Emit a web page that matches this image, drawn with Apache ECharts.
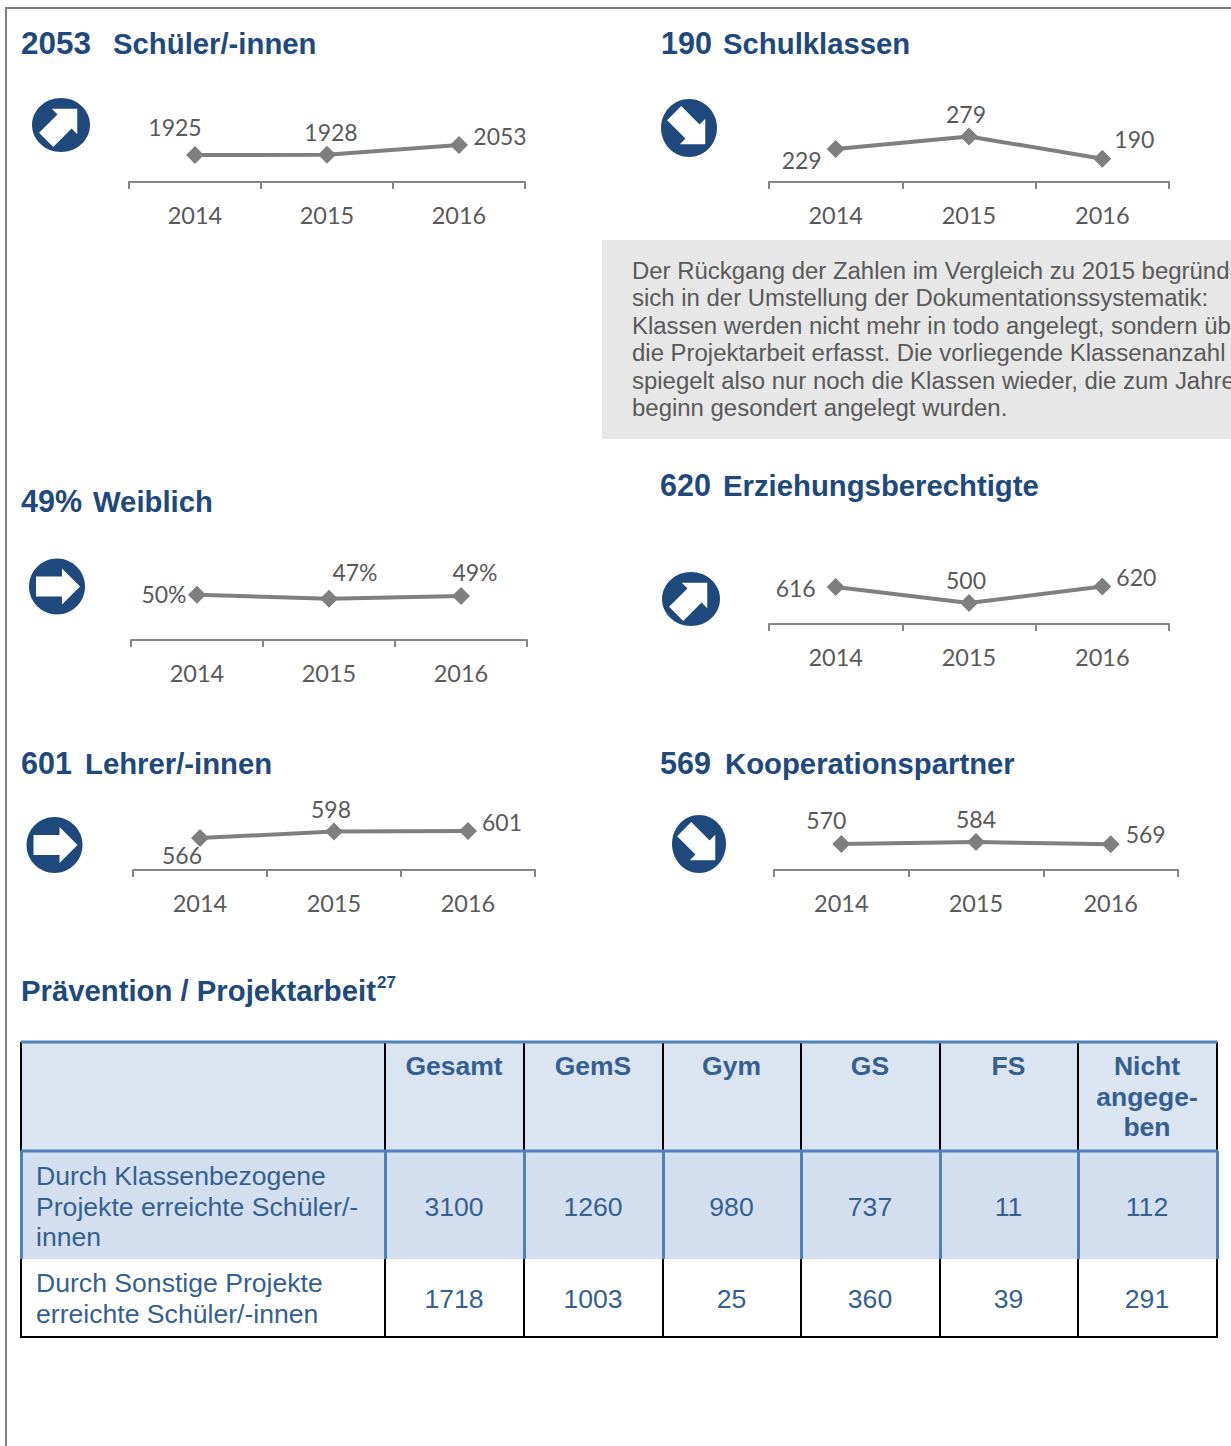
<!DOCTYPE html>
<html>
<head>
<meta charset="utf-8">
<title>Schülerzahlen 2016</title>
<script src="https://cdn.jsdelivr.net/npm/echarts@6/dist/echarts.min.js"></script>
<style>
html, body { margin: 0; padding: 0; background: #fff; overflow: hidden; }
#charts-con { width: 1231px; height: 1446px; }
</style>
</head>
<body>
<div id="charts-con"></div>
<script>
// data
var years = ['2014', '2015', '2016'];
var schueler = [1925, 1928, 2053];
var schulklassen = [229, 279, 190];
var weiblich = [50, 47, 49];
var eltern = [616, 500, 620];
var lehrer = [566, 598, 601];
var partner = [570, 584, 569];

var tableColumns = ['Gesamt', 'GemS', 'Gym', 'GS', 'FS', 'Nicht\nangege-\nben'];
var tableRowLabels = ['Durch Klassenbezogene\nProjekte erreichte Schüler/-\ninnen', 'Durch Sonstige Projekte\nerreichte Schüler/-innen'];
var klassenProjekte = [3100, 1260, 980, 737, 11, 112];
var sonstigeProjekte = [1718, 1003, 25, 360, 39, 291];

// the box runs off the page in the reference, so only what is visible is kept
var noteLines = [
    'Der Rückgang der Zahlen im Vergleich zu 2015 begründ',
    'sich in der Umstellung der Dokumentationssystematik:',
    'Klassen werden nicht mehr in todo angelegt, sondern üb',
    'die Projektarbeit erfasst. Die vorliegende Klassenanzahl',
    'spiegelt also nur noch die Klassen wieder, die zum Jahre',
    'beginn gesondert angelegt wurden.'
];

// colours and fonts
var NAVY = '#1F497D', BLUE = '#365F91', LINE_BLUE = '#4F81BD', GREY = '#7F7F7F', AXIS = '#868686', TEXT = '#595959';
var ARIAL = '"Liberation Sans", Arial, sans-serif', CHART_FONT = 'Lato, sans-serif';

// left/right = axis ends, axisY = axis height, unit = value per pixel
var panels = [
    {data: schueler, left: 129, right: 525, axisY: 182, min: 1580, unit: 12.8, labelOffsets: [[-20, -28], [4, -23], [41, -9]]},
    {data: schulklassen, left: 769, right: 1169, axisY: 182, min: 97, unit: 4, labelOffsets: [[-34, 11], [-3, -23], [32, -20]]},
    {data: weiblich, left: 131, right: 527, axisY: 640, min: 16, unit: 0.75, suffix: '%', labelOffsets: [[-33, -1], [26, -27], [14, -24]]},
    {data: eltern, left: 769, right: 1169, axisY: 624, min: 348, unit: 7.25, labelOffsets: [[-40, 1], [-3, -23], [34, -9]]},
    {data: lehrer, left: 133, right: 535, axisY: 870, min: 406, unit: 5, labelOffsets: [[-18, 17], [-3, -23], [34, -9]]},
    {data: partner, left: 774, right: 1178, axisY: 870, min: 388, unit: 7, labelOffsets: [[-15, -24], [0, -23], [35, -10]]}
];
var PLOT_HEIGHT = 80;

var grids = [], xAxes = [], yAxes = [], series = [];
panels.forEach(function (p, i) {
    grids.push({left: p.left, width: p.right - p.left, top: p.axisY - PLOT_HEIGHT, height: PLOT_HEIGHT});
    xAxes.push({
        type: 'category',
        gridIndex: i,
        data: years,
        boundaryGap: true,
        axisLine: {lineStyle: {color: AXIS, width: 2}},
        axisTick: {show: true, length: 7, lineStyle: {color: AXIS, width: 2}},
        axisLabel: {color: TEXT, fontFamily: CHART_FONT, fontSize: 23.5, margin: 21}
    });
    yAxes.push({type: 'value', gridIndex: i, show: false, min: p.min, max: p.min + p.unit * PLOT_HEIGHT});
    series.push({
        type: 'line',
        xAxisIndex: i,
        yAxisIndex: i,
        data: p.data.map(function (v, k) {
            return {
                value: v,
                label: {offset: p.labelOffsets[k]}
            };
        }),
        symbol: 'diamond',
        symbolSize: 18,
        showAllSymbol: true,
        lineStyle: {color: GREY, width: 4},
        itemStyle: {color: GREY},
        animation: false,
        silent: true,
        label: {
            show: true,
            position: 'inside',
            align: 'center',
            verticalAlign: 'middle',
            color: TEXT,
            fontFamily: CHART_FONT,
            fontSize: 23,
            formatter: function (o) { return o.value + (p.suffix || ''); }
        }
    });
});

function text(str, x, y, font, color, align) {
    return {
        type: 'text',
        x: x,
        y: y,
        silent: true,
        style: {text: str, font: font, fill: color, align: align || 'left', verticalAlign: 'middle'}
    };
}

function box(x, y, w, h, color) {
    return {type: 'rect', silent: true, shape: {x: x, y: y, width: w, height: h}, style: {fill: color}};
}

function hline(x1, x2, y, color, width) {
    return {type: 'line', silent: true, shape: {x1: x1, y1: y, x2: x2, y2: y}, style: {stroke: color, lineWidth: width}};
}

function vline(x, y1, y2, color, width) {
    return {type: 'line', silent: true, shape: {x1: x, y1: y1, x2: x, y2: y2}, style: {stroke: color, lineWidth: width}};
}

// round trend icon, angle in degrees (0 = right, 45 = up-right, -45 = down-right)
function trendIcon(cx, cy, rx, ry, angle) {
    return {
        type: 'group',
        x: cx,
        y: cy,
        silent: true,
        children: [
            {type: 'ellipse', shape: {cx: 0, cy: 0, rx: rx, ry: ry}, style: {fill: NAVY}},
            {
                type: 'polygon',
                rotation: angle * Math.PI / 180,
                shape: {points: [[-21, -10], [5, -10], [5, -18], [23, 0], [5, 18], [5, 10], [-21, 10]]},
                style: {fill: '#fff'}
            }
        ]
    };
}

var HEAD = 'bold 29.3px ' + ARIAL;
var HEAD_NUM = 'bold 30.5px ' + ARIAL;
var graphics = [
    // page frame
    hline(5, 1231, 8, '#808080', 2),
    vline(6, 8, 1446, '#808080', 2),

    text('2053', 21, 43, 'bold 31.5px ' + ARIAL, NAVY),
    text('Schüler/-innen', 113, 43, HEAD, NAVY),
    text('190', 661, 43, HEAD_NUM, NAVY),
    text('Schulklassen', 723, 43, HEAD, NAVY),
    text('49%', 21, 501, HEAD_NUM, NAVY),
    text('Weiblich', 93, 501, HEAD, NAVY),
    text('620', 660, 485, HEAD_NUM, NAVY),
    text('Erziehungsberechtigte', 723, 485, HEAD, NAVY),
    text('601', 21, 763, HEAD_NUM, NAVY),
    text('Lehrer/-innen', 85, 763, HEAD, NAVY),
    text('569', 660, 763, HEAD_NUM, NAVY),
    text('Kooperationspartner', 725, 763, HEAD, NAVY),
    text('Prävention / Projektarbeit', 21, 990, HEAD, NAVY),
    text('27', 377, 982, 'bold 17px ' + ARIAL, NAVY),

    trendIcon(61, 125, 29, 27, 45),
    trendIcon(689, 128, 28, 29, -45),
    trendIcon(57, 586.5, 28, 28, 0),
    trendIcon(691, 599, 29, 27, 45),
    trendIcon(54.5, 845, 28, 28, 0),
    trendIcon(699, 844, 27, 29, -45),

    box(602, 240, 629, 199, '#E7E7E7')
];

noteLines.forEach(function (line, i) {
    graphics.push(text(line, 632, 270 + i * 27.5, '23.95px ' + ARIAL, TEXT));
});

// table
var colX = [21, 385, 524, 663, 801, 940, 1078, 1217];
var rowY = [1042, 1151, 1259, 1337];
var tableRows = [klassenProjekte, sonstigeProjekte];
var TABLE_FONT = '26.6px ' + ARIAL;
var TABLE_LINE = 30.5;

graphics.push(box(colX[0], rowY[0], colX[7] - colX[0], rowY[1] - rowY[0], '#DBE5F1'));
graphics.push(box(colX[0], rowY[1], colX[7] - colX[0] + 1, rowY[2] - rowY[1], '#D3DFEE'));
colX.forEach(function (x) {
    graphics.push(vline(x, rowY[0], rowY[1], '#000', 2));
    graphics.push(vline(x, rowY[2], rowY[3], '#000', 2));
});
colX.forEach(function (x) {
    graphics.push(vline(x + 0.5, rowY[1], rowY[2], LINE_BLUE, 3));
});
graphics.push(hline(colX[0], colX[7], rowY[0], LINE_BLUE, 3));
graphics.push(hline(colX[0], colX[7] + 1, rowY[1], LINE_BLUE, 3));
graphics.push(hline(colX[0] - 1, colX[7] + 1, rowY[3], '#000', 2));

tableColumns.forEach(function (name, c) {
    name.split('\n').forEach(function (line, i) {
        graphics.push(text(line, (colX[c + 1] + colX[c + 2]) / 2 - 0.5, 1066 + i * TABLE_LINE, 'bold 26.5px ' + ARIAL, BLUE, 'center'));
    });
});
tableRowLabels.forEach(function (label, r) {
    var lines = label.split('\n');
    var middle = r === 0 ? 1207 : 1299;
    lines.forEach(function (line, i) {
        graphics.push(text(line, 36, middle - 0.5 + (i - (lines.length - 1) / 2) * TABLE_LINE, TABLE_FONT, BLUE));
    });
    tableRows[r].forEach(function (v, c) {
        graphics.push(text(String(v), (colX[c + 1] + colX[c + 2]) / 2 - 0.5, middle, TABLE_FONT, BLUE, 'center'));
    });
});

var chart = echarts.init(document.getElementById('charts-con'), null, {renderer: 'svg'});
chart.setOption({
    animation: false,
    backgroundColor: '#fff',
    grid: grids,
    xAxis: xAxes,
    yAxis: yAxes,
    series: series,
    graphic: {elements: graphics}
});
</script>
</body>
</html>
